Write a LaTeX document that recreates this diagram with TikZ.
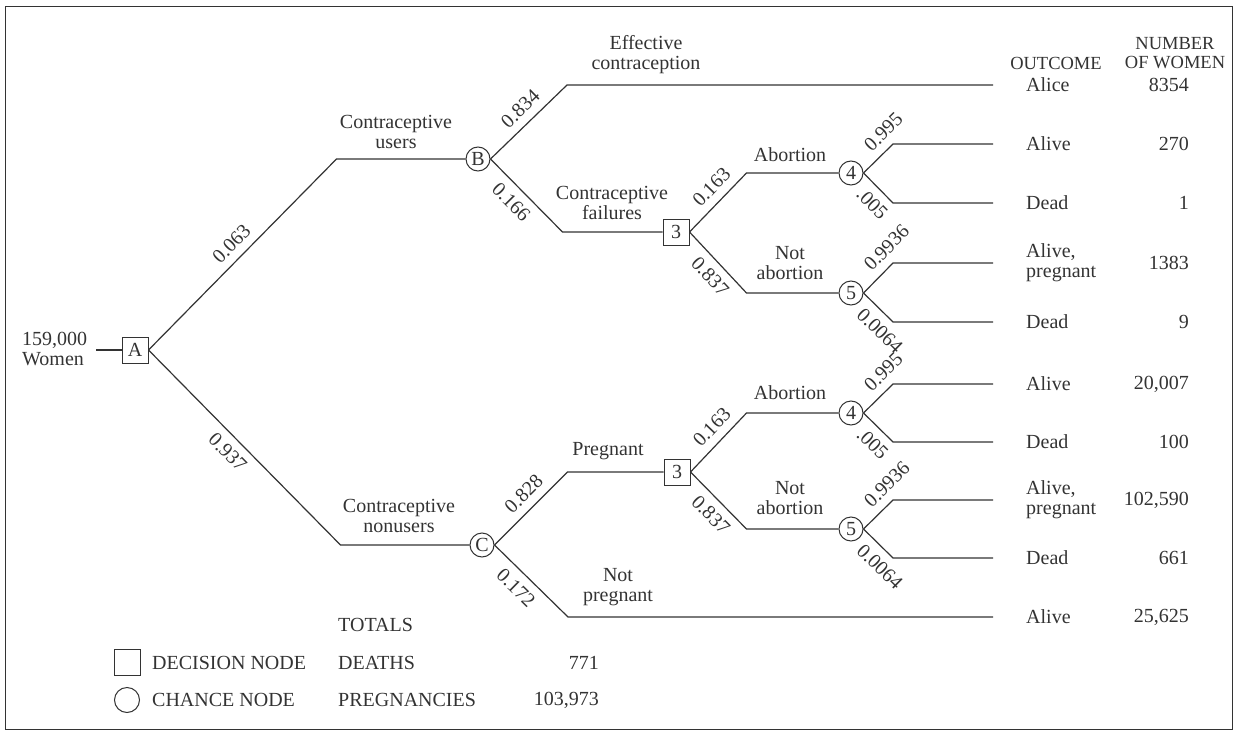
\documentclass[tikz,border=0pt]{standalone}
\usepackage{fontspec}
\setmainfont{Liberation Serif}
\usetikzlibrary{calc}

\tikzset{
    decision/.style={draw, rectangle, line width=1pt, minimum size=26pt, inner sep=0pt},
    chance/.style={draw, circle, line width=1pt, minimum size=24pt, inner sep=0pt},
    branch/.style={line width=1.2pt},
    stage/.style={align=center, inner sep=0pt},
    heading/.style={align=center, inner sep=0pt, font=\fontsize{18.5}{19}\selectfont},
    prob/.style={sloped, inner sep=0pt},
    tipup/.style={sloped, inner sep=0pt, above=8pt, anchor=south west, pos=.48},
    tipdown/.style={sloped, inner sep=0pt, below=8pt, anchor=north west, pos=.24},
}

\begin{document}
\begin{tikzpicture}[x=1pt, y=-1pt, color=black!80, font=\fontsize{20}{20}\selectfont]
    \useasboundingbox (0,0) rectangle (1239,733);
    \draw[line width=1pt] (5,7) rectangle (1232,729);

    % decision and chance nodes
    \node[decision] (A) at (135,350) {A};
    \node[chance] (B) at (478,159) {B};
    \node[chance] (C) at (482,545) {C};
    \node[decision] (dec3u) at (676,232) {3};
    \node[chance] (c4u) at (851,173) {4};
    \node[chance] (c5u) at (851,293) {5};
    \node[decision] (dec3n) at (677,472) {3};
    \node[chance] (c4n) at (851,413) {4};
    \node[chance] (c5n) at (851,529) {5};

    \coordinate (start) at (96,350);
    \node[stage, align=left, anchor=west] (women) at (22,349) {159,000\\Women};

    % outcomes and number of women
    \node[heading] (outcome) at (1056,63) {OUTCOME};
    \node[heading] (number) at (1175,53) {NUMBER\\OF WOMEN};
    \foreach \i/\y/\what/\nw in {1/85/Alice/8354, 2/144/Alive/270, 3/203/Dead/1,
        4/263/{Alive,\\pregnant}/1383, 5/322/Dead/9, 6/384/Alive/{20,007},
        7/442/Dead/100, 8/500/{Alive,\\pregnant}/{102,590}, 9/558/Dead/661,
        10/617/Alive/{25,625}} {
        \coordinate (o\i) at (993,\y);
        \node[stage, align=left, anchor=west] (t\i) at (1026,\y) {\what};
        \node[stage, anchor=east] (n\i) at (1189,\y) {\nw};
    }

    % branches
    \draw[branch] (start) -- (A.west);
    \draw[branch] (A.east) -- node[prob, above=8pt] {0.063} ($(B.west)+(-129,0)$) -- (B.west);
    \draw[branch] (A.east) -- node[prob, below=8pt, pos=.47] {0.937} ($(C.west)+(-129,0)$) -- (C.west);
    \draw[branch] (B.east) -- node[prob, above=8pt, pos=.53] {0.834} ($(o1)+(-426,0)$) -- (o1);
    \draw[branch] (B.east) -- node[prob, below=8pt, pos=.44] {0.166} ($(dec3u.west)+(-100,0)$) -- (dec3u.west);
    \draw[branch] (dec3u.east) -- node[prob, above=8pt, pos=.58] {0.163} ($(c4u.west)+(-92,0)$) -- (c4u.west);
    \draw[branch] (dec3u.east) -- node[prob, below=8pt, pos=.56] {0.837} ($(c5u.west)+(-92,0)$) -- (c5u.west);
    \draw[branch] (C.east) -- node[prob, above=8pt, pos=.55] {0.828} ($(dec3n.west)+(-96,0)$) -- (dec3n.west);
    \draw[branch] (C.east) -- node[prob, below=8pt, pos=.44] {0.172} ($(o10)+(-425,0)$) -- (o10);
    \draw[branch] (dec3n.east) -- node[prob, above=8pt, pos=.58] {0.163} ($(c4n.west)+(-92,0)$) -- (c4n.west);
    \draw[branch] (dec3n.east) -- node[prob, below=8pt, pos=.56] {0.837} ($(c5n.west)+(-92,0)$) -- (c5n.west);
    \foreach \n/\pup/\pdn/\ra/\rb in {c4u/0.995/.005/2/3, c5u/0.9936/0.0064/4/5,
        c4n/0.995/.005/6/7, c5n/0.9936/0.0064/8/9} {
        \draw[branch] (\n.east) -- node[tipup] {\pup} ($(o\ra)+(-100,0)$) -- (o\ra);
        \draw[branch] (\n.east) -- node[tipdown] {\pdn} ($(o\rb)+(-100,0)$) -- (o\rb);
    }

    % stage labels
    \node[stage] (users) at (396,132) {Contraceptive\\users};
    \node[stage] (nonusers) at (399,516) {Contraceptive\\nonusers};
    \node[stage] (effective) at (646,55) {Effective\\contraception};
    \node[stage] (failures) at (612,203) {Contraceptive\\failures};
    \node[stage] (abortu) at (790,155) {Abortion};
    \node[stage] (notabortu) at (790,263) {Not\\abortion};
    \node[stage] (pregnant) at (608,451) {Pregnant};
    \node[stage] (abortn) at (790,393) {Abortion};
    \node[stage] (notabortn) at (790,498) {Not\\abortion};
    \node[stage] (notpreg) at (618,587) {Not\\pregnant};

    % key and totals
    \node[decision] (keyD) at (127,662) {};
    \node[chance, minimum size=25pt] (keyC) at (127,700) {};
    \node[stage, anchor=west] (keyDtxt) at (152,663) {DECISION NODE};
    \node[stage, anchor=west] (keyCtxt) at (152,700) {CHANCE NODE};
    \node[stage, anchor=west] (totals) at (338,625) {TOTALS};
    \node[stage, anchor=west] (deaths) at (338,663) {DEATHS};
    \node[stage, anchor=west] (pregs) at (338,700) {PREGNANCIES};
    \node[stage, anchor=east] (ndeaths) at (599,663) {771};
    \node[stage, anchor=east] (npregs) at (599,700) {103,973};
\end{tikzpicture}
\end{document}
